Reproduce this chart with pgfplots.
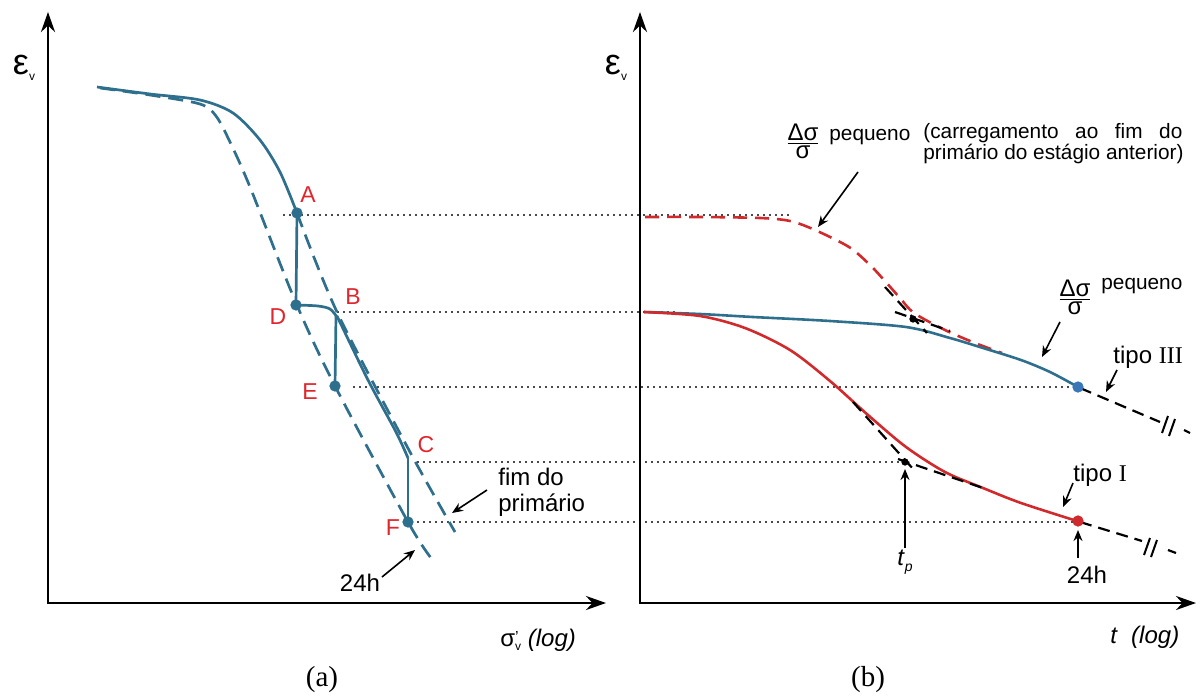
\documentclass[border=0pt]{standalone}
\usepackage{pgfplots}
\pgfplotsset{compat=1.18}
\usepackage{fontspec}
\setmainfont{Liberation Sans}
\newfontfamily\tnr{Liberation Serif}
\usetikzlibrary{arrows.meta}
\definecolor{tb}{HTML}{2E6F8E}
\definecolor{rd}{HTML}{D12A2C}
\definecolor{lab}{HTML}{E0262C}
\definecolor{bd}{HTML}{3A77B6}
\definecolor{gr}{HTML}{4A4A4A}
\newcommand\fs[1]{\fontsize{#1}{#1}\selectfont}
\tikzset{
  dotl/.style={gr, line width=0.9pt, dash pattern=on 0.9pt off 2.1pt},
  bsolid/.style={tb, line width=1.35pt},
  bdash/.style={tb, line width=1.35pt, dash pattern=on 7.5pt off 4pt},
  rdash/.style={rd, line width=1.3pt, dash pattern=on 7pt off 4pt},
  kdash/.style={black, line width=1.1pt, dash pattern=on 6pt off 3.5pt},
  arr/.style={black, line width=0.8pt, -{Stealth[length=5.5pt,width=4.5pt]}},
  ax/.style={black, line width=1.4pt, {Stealth[length=10pt,width=7pt]}-{Stealth[length=10pt,width=7pt]}},
}
\begin{document}
\begin{tikzpicture}
\begin{axis}[
  name=ax,
  width=600pt, height=348pt, scale only axis,
  xmin=0, xmax=1200, ymin=0, ymax=696, y dir=reverse,
  axis lines=none, clip=false,
]
% ---------- dotted guide lines ----------
\addplot[dotl] coordinates {(283,215) (790,215)};
\addplot[dotl] coordinates {(337,312) (675,312)};
\addplot[dotl] coordinates {(353,387) (1078,387)};
\addplot[dotl] coordinates {(417,462) (905,462)};
\addplot[dotl] coordinates {(417,522) (1078,522)};
% ---------- axes ----------
\addplot[ax] coordinates {(48,12) (48,603) (606,603)};
\addplot[ax] coordinates {(640,12) (640,603) (1196,603)};
% ---------- left panel ----------
\addplot[bdash, smooth] coordinates {(100,88) (150,95) (200,104) (216,116) (230,142) (250,187) (296,303) (335,386) (408,522) (431,558)};
\addplot[bdash, smooth] coordinates {(297,213) (337,312) (410,452) (455,532)};
\addplot[bsolid, smooth] coordinates {(97,87) (150,94) (200,100) (233,113) (260,140) (280,172) (297,213)};
\addplot[bsolid] coordinates {(297,213) (296,305)};
\addplot[bsolid, smooth] coordinates {(296,305) (318,306) (330,309) (337,317)};
\addplot[bsolid] coordinates {(336,316) (335,386)};
\addplot[bsolid, smooth] coordinates {(337,316) (368,380) (396,432) (408,458)};
\addplot[bsolid] coordinates {(408,458) (408,522)};
\addplot[only marks, mark=*, mark size=2.6pt, color=tb] coordinates {(297,213) (296,305) (335,386) (408,522)};
\addplot[arr] coordinates {(487,490) (452,513)};
\addplot[arr] coordinates {(382,577) (415,550)};
% ---------- right panel ----------
\addplot[rdash, smooth] coordinates {(645,217) (700,217) (760,218) (790,221) (815,230) (849,247) (870,265) (884,280) (900,298) (914,313) (945,330) (975,343) (1002,353)};
\addplot[tb, line width=1.3pt, smooth] coordinates {(644,312) (700,314) (753,317) (830,321) (906,327) (950,338) (983,348) (1021,360) (1050,372) (1078,387)};
\addplot[rd, line width=1.3pt, smooth] coordinates {(644,312) (700,316) (745,328) (790,350) (830,381) (868,415) (906,447) (945,472) (983,488) (1021,503) (1077,521)};
\addplot[kdash] coordinates {(885,287) (927,333)};
\addplot[kdash] coordinates {(895,312) (950,331)};
\addplot[kdash] coordinates {(853,402) (914,470)};
\addplot[kdash] coordinates {(898,459) (983,488)};
\addplot[only marks, mark=*, mark size=1.6pt, color=black] coordinates {(913,319) (905,462)};
\addplot[kdash] coordinates {(1080,388) (1160,422)};
\addplot[black, line width=1pt] coordinates {(1162,433) (1168,416)};
\addplot[black, line width=1pt] coordinates {(1169,436) (1175,419)};
\addplot[black, line width=1.1pt] coordinates {(1184,430) (1190,433)};
\addplot[kdash] coordinates {(1080,522) (1142,541)};
\addplot[black, line width=1pt] coordinates {(1144,555) (1150,538)};
\addplot[black, line width=1pt] coordinates {(1151,557) (1157,540)};
\addplot[black, line width=1.1pt] coordinates {(1168,550) (1176,553)};
\addplot[only marks, mark=*, mark size=2.6pt, color=bd] coordinates {(1078,387)};
\addplot[only marks, mark=*, mark size=2.6pt, color=rd] coordinates {(1078,521)};
\addplot[arr] coordinates {(905,548) (905,469)};
\addplot[arr] coordinates {(1078,558) (1078,530)};
\addplot[arr] coordinates {(1073,483) (1063,507)};
\addplot[arr] coordinates {(1117,370) (1106,392)};
\addplot[arr] coordinates {(1060,322) (1042,357)};
\addplot[arr] coordinates {(858,172) (818,227)};
% ---------- texts ----------
\node[inner sep=0pt] at (axis cs:24,68) {\fs{18}ε\raisebox{-0.3ex}{\fs{6}v}};
\node[inner sep=0pt] at (axis cs:616,68) {\fs{18}ε\raisebox{-0.3ex}{\fs{6}v}};
\begin{scope}[every node/.style={text=lab, font=\fs{11.5}}]
\node at (axis cs:308,195) {A};
\node at (axis cs:353,297) {B};
\node at (axis cs:278,317) {D};
\node at (axis cs:310,392) {E};
\node at (axis cs:426,445) {C};
\node at (axis cs:393,528) {F};
\end{scope}
\node[anchor=west, inner sep=0pt] at (axis cs:498,477) {\fs{12}fim do};
\node[anchor=west, inner sep=0pt] at (axis cs:498,505) {\fs{12}primário};
\node at (axis cs:360,583) {\fs{12}24h};
\node[anchor=west, inner sep=0pt] at (axis cs:500,640) {\fs{12}σ\raisebox{-0.35ex}{\fs{6}\makebox[0pt][l]{\raisebox{1.3ex}{\fs{8}'}}v} \textit{(log)}};
\node[anchor=west, inner sep=0pt] at (axis cs:1110,637) {\fs{12}\textit{t}\ \ \textit{(log)}};
\node at (axis cs:322,680) {\tnr\fs{14.5}(a)};
\node at (axis cs:868,680) {\tnr\fs{14.5}(b)};
\node[inner sep=0pt] at (axis cs:803,141) {\fs{12}$\frac{\mbox{Δσ}}{\mbox{σ}}$};
\node[anchor=west, inner sep=0pt] at (axis cs:829,137) {\fs{10.4}pequeno};
\node[anchor=west, inner sep=0pt] at (axis cs:923,133) {\fs{10.4}\makebox[129.5pt][s]{(carregamento ao fim do}};
\node[anchor=west, inner sep=0pt] at (axis cs:923,154) {\fs{10.4}primário do estágio anterior)};
\node[inner sep=0pt] at (axis cs:1075,297) {\fs{12}$\frac{\mbox{Δσ}}{\mbox{σ}}$};
\node[anchor=west, inner sep=0pt] at (axis cs:1101,286) {\fs{10.4}pequeno};
\node[anchor=west, inner sep=0pt] at (axis cs:1113,357) {\fs{12}tipo {\tnr III}};
\node[anchor=west, inner sep=0pt] at (axis cs:1073,475) {\fs{12}tipo {\tnr I}};
\node at (axis cs:905,562) {\fs{12}\textit{t}\raisebox{-0.5ex}{\fs{7}\textit{p}}};
\node at (axis cs:1087,575) {\fs{12}24h};
\end{axis}
\pgfresetboundingbox
\path (ax.south west) rectangle (ax.north east);
\end{tikzpicture}
\end{document}
